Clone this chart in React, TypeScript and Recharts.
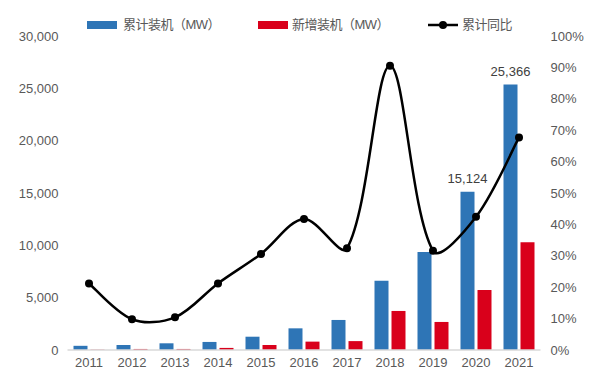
import { Bar, ComposedChart, LabelList, Line, XAxis, YAxis } from 'recharts'

const years = ['2011', '2012', '2013', '2014', '2015', '2016', '2017', '2018', '2019', '2020', '2021']
const cumulative = [400, 480, 640, 770, 1270, 2070, 2870, 6620, 9360, 15124, 25366]
const added = [30, 100, 100, 200, 480, 800, 850, 3730, 2680, 5730, 10290]
const yoy = [0.212, 0.098, 0.104, 0.212, 0.306, 0.417, 0.324, 0.905, 0.316, 0.424, 0.677]
const labelledYears = ['2020', '2021']

const leftTicks = [0, 5000, 10000, 15000, 20000, 25000, 30000]
const rightTicks = [0, 0.1, 0.2, 0.3, 0.4, 0.5, 0.6, 0.7, 0.8, 0.9, 1]

const BLUE = '#2E75B6'
const RED = '#D9001B'
const TEXT = '#595959'
const FONT = "'Liberation Sans', Arial, 'Noto Sans CJK SC', sans-serif"

const data = years.map((year, i) => ({
  year,
  cumulative: cumulative[i],
  added: added[i],
  yoy: yoy[i],
}))

// Excel-like smoothed line: bezier handles along (next - prev), scaled by chord lengths
function excelSmooth(context: any) {
  let pts: [number, number][] = []
  const dist = (a: [number, number], b: [number, number]) => Math.hypot(b[0] - a[0], b[1] - a[1])
  return {
    areaStart() {},
    areaEnd() {},
    lineStart() {
      pts = []
    },
    point(x: number, y: number) {
      pts.push([+x, +y])
    },
    lineEnd() {
      if (!pts.length) return
      const n = pts.length
      const outH: [number, number][] = []
      const inH: [number, number][] = []
      for (let i = 0; i < n; i++) {
        const p0 = pts[i - 1] ?? pts[i]
        const p1 = pts[i]
        const p2 = pts[i + 1] ?? pts[i]
        const d01 = dist(p0, p1)
        const d12 = dist(p1, p2)
        const sum = d01 + d12 || 1
        const vx = p2[0] - p0[0]
        const vy = p2[1] - p0[1]
        const kOut = (i === n - 1 ? 0 : d12 / sum) / 3
        const kIn = (i === 0 ? 0 : d01 / sum) / 3
        outH.push([p1[0] + vx * kOut * (i === 0 ? 0.5 : 1), p1[1] + vy * kOut * (i === 0 ? 0.5 : 1)])
        inH.push([p1[0] - vx * kIn * (i === n - 1 ? 0.5 : 1), p1[1] - vy * kIn * (i === n - 1 ? 0.5 : 1)])
      }
      context.moveTo(pts[0][0], pts[0][1])
      for (let i = 0; i < n - 1; i++) {
        context.bezierCurveTo(outH[i][0], outH[i][1], inH[i + 1][0], inH[i + 1][1], pts[i + 1][0], pts[i + 1][1])
      }
    },
  }
}

function BarValue(props: any) {
  const { x, y, width, value, index } = props
  if (!labelledYears.includes(years[index])) return null
  return (
    <text x={x + width / 2} y={y - 9} textAnchor="middle" fill="#404040" fontSize={13} fontFamily={FONT}>
      {Number(value).toLocaleString('en-US')}
    </text>
  )
}

function ChartLegend() {
  const item = {
    position: 'absolute' as const,
    top: 16,
    fontSize: 13,
    letterSpacing: -0.5,
    color: TEXT,
    fontFamily: FONT,
    lineHeight: '18px',
  }
  return (
    <>
      <div style={{ position: 'absolute', left: 87, top: 21, width: 30, height: 7.5, background: BLUE }} />
      <div style={{ ...item, left: 123 }}>累计装机（MW）</div>
      <div style={{ position: 'absolute', left: 258, top: 21, width: 30, height: 7.5, background: RED }} />
      <div style={{ ...item, left: 292 }}>新增装机（MW）</div>
      <svg style={{ position: 'absolute', left: 428, top: 19 }} width={30} height={12}>
        <line x1={0} y1={6} x2={30} y2={6} stroke="#000" strokeWidth={2.5} />
        <circle cx={15} cy={6} r={4} fill="#000" />
      </svg>
      <div style={{ ...item, left: 462 }}>累计同比</div>
    </>
  )
}

export default function App() {
  const tick = { fill: TEXT, fontSize: 13, fontFamily: FONT }
  return (
    <div style={{ position: 'relative', width: 615, height: 379, background: '#fff' }}>
      <style>{'body{margin:0}'}</style>
      <ComposedChart
        width={615}
        height={379}
        data={data}
        margin={{ top: 36, right: 0, bottom: 0, left: 0 }}
        barGap={3}
      >
        <XAxis
          dataKey="year"
          tick={tick}
          tickLine={false}
          tickSize={0}
          tickMargin={8}
          height={29}
          axisLine={{ stroke: '#D9D9D9', strokeWidth: 1.5 }}
        />
        <YAxis
          yAxisId="left"
          domain={[0, 30000]}
          ticks={leftTicks}
          tick={tick}
          tickFormatter={(v: number) => v.toLocaleString('en-US')}
          axisLine={false}
          tickLine={false}
          tickSize={0}
          tickMargin={9}
          width={67.5}
        />
        <YAxis
          yAxisId="right"
          orientation="right"
          domain={[0, 1]}
          ticks={rightTicks}
          tick={{ ...tick, textAnchor: 'start' }}
          tickFormatter={(v: number) => `${Math.round(v * 100)}%`}
          axisLine={false}
          tickLine={false}
          tickSize={0}
          tickMargin={10}
          width={74.5}
        />
        <Bar yAxisId="left" dataKey="cumulative" fill={BLUE} barSize={14} isAnimationActive={false}>
          <LabelList dataKey="cumulative" content={<BarValue />} />
        </Bar>
        <Bar yAxisId="left" dataKey="added" fill={RED} barSize={14} isAnimationActive={false} />
        <Line
          yAxisId="right"
          dataKey="yoy"
          type={excelSmooth as any}
          stroke="#000"
          strokeWidth={2.5}
          dot={{ r: 4, fill: '#000', stroke: '#000', strokeWidth: 0 }}
          isAnimationActive={false}
        />
      </ComposedChart>
      <ChartLegend />
    </div>
  )
}
